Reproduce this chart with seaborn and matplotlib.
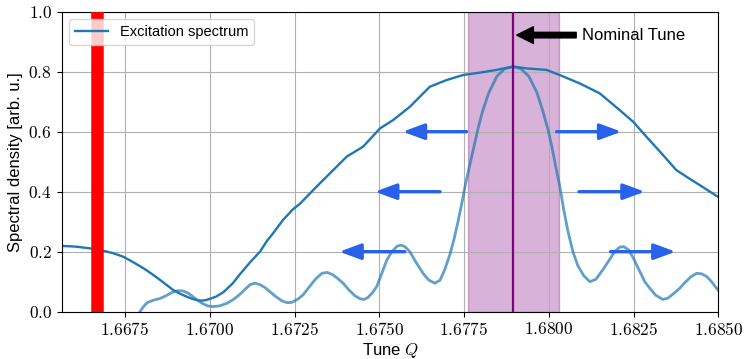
import matplotlib
matplotlib.use("Agg")
import matplotlib.pyplot as plt
from matplotlib.ticker import MultipleLocator, FuncFormatter
import seaborn as sns
import pandas as pd

# ---- data ----
broad_q = [1.66568, 1.66603, 1.66647, 1.66686, 1.66715, 1.66745, 1.66774, 1.66804,
           1.66830, 1.66853, 1.66874, 1.66892, 1.66912, 1.66932, 1.66950, 1.66971,
           1.66986, 1.67001, 1.67018, 1.67040, 1.67068, 1.67089, 1.67119, 1.67148,
           1.67168, 1.67187, 1.67216, 1.67246, 1.67266, 1.67315, 1.67404, 1.67452,
           1.67502, 1.67541, 1.67590, 1.67649, 1.67698, 1.67747, 1.67797, 1.67846,
           1.67895, 1.67934, 1.67993, 1.68032, 1.68091, 1.68150, 1.68209, 1.68249,
           1.68288, 1.68337, 1.68376, 1.68406, 1.68445, 1.68499]
broad_v = [0.219, 0.217, 0.211, 0.203, 0.195, 0.183, 0.165, 0.145,
           0.125, 0.106, 0.088, 0.072, 0.060, 0.050, 0.042, 0.037,
           0.038, 0.043, 0.050, 0.065, 0.095, 0.125, 0.165, 0.200,
           0.235, 0.262, 0.306, 0.342, 0.360, 0.417, 0.517, 0.550,
           0.611, 0.639, 0.683, 0.750, 0.772, 0.789, 0.797, 0.806,
           0.817, 0.811, 0.806, 0.789, 0.761, 0.728, 0.672, 0.633,
           0.583, 0.522, 0.472, 0.450, 0.422, 0.383]

narrow_q = [1.66794, 1.66803, 1.66815, 1.66833, 1.66853, 1.66874, 1.66892, 1.66906,
            1.66921, 1.66936, 1.66950, 1.66965, 1.66980, 1.66995, 1.67009, 1.67027,
            1.67051, 1.67071, 1.67089, 1.67104, 1.67119, 1.67133, 1.67148, 1.67163,
            1.67177, 1.67195, 1.67213, 1.67228, 1.67242, 1.67260, 1.67275, 1.67295,
            1.67313, 1.67331, 1.67346, 1.67363, 1.67378, 1.67393, 1.67410, 1.67428,
            1.67443, 1.67455, 1.67466, 1.67481, 1.67493, 1.67508, 1.67522, 1.67537,
            1.67552, 1.67564, 1.67575, 1.67590, 1.67608, 1.67629, 1.67646, 1.67664,
            1.67679, 1.67693, 1.67708, 1.67720, 1.67732, 1.67743, 1.67755, 1.67767,
            1.67779, 1.67791, 1.67805, 1.67823, 1.67847, 1.67870, 1.67894, 1.67917,
            1.67941, 1.67965, 1.67982, 1.67997, 1.68009, 1.68021, 1.68032, 1.68044,
            1.68056, 1.68071, 1.68085, 1.68103, 1.68121, 1.68139, 1.68159, 1.68177,
            1.68194, 1.68209, 1.68221, 1.68236, 1.68251, 1.68268, 1.68283, 1.68298,
            1.68315, 1.68336, 1.68351, 1.68368, 1.68386, 1.68404, 1.68419, 1.68436,
            1.68451, 1.68466, 1.68480, 1.68499]
narrow_v = [0.000, 0.015, 0.030, 0.038, 0.044, 0.055, 0.066, 0.070,
            0.069, 0.062, 0.050, 0.037, 0.026, 0.019, 0.017, 0.019,
            0.028, 0.042, 0.058, 0.075, 0.090, 0.095, 0.090, 0.080,
            0.067, 0.050, 0.036, 0.030, 0.031, 0.042, 0.056, 0.085,
            0.110, 0.128, 0.131, 0.123, 0.110, 0.095, 0.073, 0.053,
            0.043, 0.041, 0.047, 0.065, 0.085, 0.130, 0.172, 0.200,
            0.218, 0.222, 0.217, 0.200, 0.165, 0.128, 0.105, 0.095,
            0.105, 0.140, 0.190, 0.240, 0.300, 0.360, 0.430, 0.490,
            0.550, 0.610, 0.670, 0.730, 0.785, 0.810, 0.817, 0.810,
            0.785, 0.730, 0.670, 0.610, 0.550, 0.480, 0.420, 0.340,
            0.270, 0.200, 0.155, 0.120, 0.100, 0.108, 0.139, 0.170,
            0.200, 0.215, 0.217, 0.205, 0.175, 0.135, 0.100, 0.078,
            0.055, 0.041, 0.045, 0.060, 0.078, 0.100, 0.116, 0.128,
            0.126, 0.117, 0.100, 0.072]

resonance_q = 1.666667
nominal_q = 1.67895
band_lo, band_hi = 1.67762, 1.68029

# blue arrows: (tail_q, tip_q, level)
arrow_tail = [1.67757, 1.68023, 1.67679, 1.68089, 1.67575, 1.68182]
arrow_tip = [1.67569, 1.68214, 1.67487, 1.68283, 1.67382, 1.68374]
arrow_y = [0.6, 0.6, 0.4, 0.4, 0.2, 0.2]

x_ticks_step = 0.0025
xlim = (1.66563, 1.6850)
ylim = (0.0, 1.0)

# ---- style ----
plt.rcParams['font.family'] = ['Liberation Sans', 'DejaVu Sans']
plt.rcParams['mathtext.fontset'] = 'cm'

fig = plt.figure(figsize=(7.45, 3.59), dpi=100)
ax = fig.add_axes([0.0828, 0.1318, 0.8814, 0.8356])

df_b = pd.DataFrame({"q": broad_q, "v": broad_v})
df_n = pd.DataFrame({"q": narrow_q, "v": narrow_v})

sns.lineplot(data=df_b, x="q", y="v", ax=ax, color="#1f77b4", lw=1.7,
             label="Excitation spectrum", zorder=2)
sns.lineplot(data=df_n, x="q", y="v", ax=ax, color="#1f77b4", lw=2.0,
             alpha=0.7, legend=False, zorder=2)

ax.axvspan(band_lo, band_hi, color="purple", alpha=0.3, zorder=1)
ax.axvline(nominal_q, color="purple", lw=1.6, zorder=3)
ax.axvline(resonance_q, color="red", lw=9, zorder=3)

arrow_color = "#2962EA"
for t, h, y in zip(arrow_tail, arrow_tip, arrow_y):
    ax.annotate("", xy=(h, y), xytext=(t, y),
                arrowprops=dict(arrowstyle="-|>,head_length=0.65,head_width=0.24",
                                color=arrow_color, lw=2.4, shrinkA=0, shrinkB=0,
                                mutation_scale=20), zorder=4)

ax.annotate("Nominal Tune", xy=(nominal_q, 0.922), xytext=(1.68099, 0.922),
            va="center", ha="left", fontsize=12,
            arrowprops=dict(facecolor="black", edgecolor="black", shrink=0.05,
                            width=4, headwidth=12, headlength=12), zorder=4)

ax.set_xlim(*xlim)
ax.set_ylim(*ylim)
ax.xaxis.set_major_locator(MultipleLocator(x_ticks_step))
ax.yaxis.set_major_locator(MultipleLocator(0.2))
ax.xaxis.set_major_formatter(FuncFormatter(lambda x, p: f"${x:.4f}$"))
ax.yaxis.set_major_formatter(FuncFormatter(lambda y, p: f"${y:.1f}$"))
ax.tick_params(labelsize=12.5)
ax.grid(True, color="#b0b0b0", lw=0.8)

ax.set_xlabel("Tune $Q$", fontsize=12, labelpad=2)
ax.set_ylabel("Spectral density [arb. u.]", fontsize=12)

leg = ax.legend(loc="upper left", fontsize=10.5, handlelength=2.3)
leg.set_zorder(5)

fig.savefig("out.png", dpi=100)
